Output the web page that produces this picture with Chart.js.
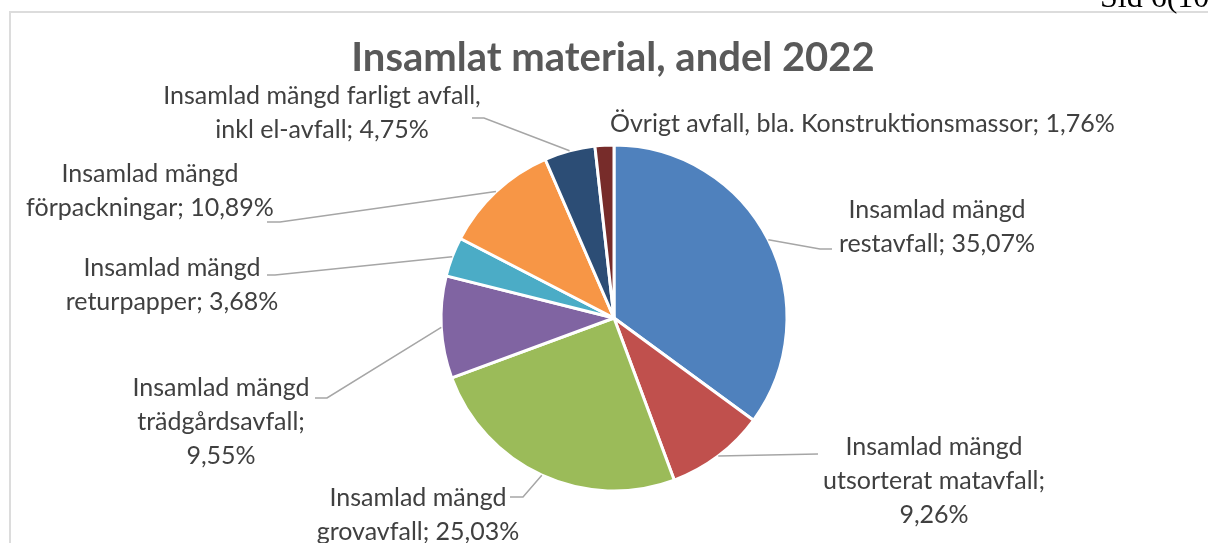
<!DOCTYPE html>
<html>
<head>
<meta charset="utf-8">
<script src="https://cdn.jsdelivr.net/npm/chart.js@4"></script>
<style>
    html, body { margin: 0; padding: 0; background: #fff; }
    #wrap { position: relative; width: 1208px; height: 543px; overflow: hidden; }
    #frame { position: absolute; left: 9px; top: 11px; right: -5px; bottom: -5px;
             border-left: 2px solid #dcdcdc; border-top: 2px solid #dcdcdc; }
    #pie { position: absolute; left: 0; top: 0; }
</style>
</head>
<body>
<div id="wrap">
    <div id="frame"></div>
    <canvas id="pie" width="1208" height="543"></canvas>
</div>
<script>
// Data
const categories = [
    "Insamlad mängd restavfall",
    "Insamlad mängd utsorterat matavfall",
    "Insamlad mängd grovavfall",
    "Insamlad mängd trädgårdsavfall",
    "Insamlad mängd returpapper",
    "Insamlad mängd förpackningar",
    "Insamlad mängd farligt avfall, inkl el-avfall",
    "Övrigt avfall, bla. Konstruktionsmassor"
];
const shares = [35.07, 9.26, 25.03, 9.55, 3.68, 10.89, 4.75, 1.76];
const sliceColors = ["#4f81bd", "#c0504d", "#9bbb59", "#8064a2", "#4bacc6", "#f79646", "#2c4d75", "#772c2a"];
const chartTitle = "Insamlat material, andel 2022";
const pageMark = "Sid 6(10)";

// where each data label sits (text centre / first line, wrap width, leader bend)
const labelLayout = [
    { x: 937, y: 210, wrap: 215, bend: [820, 249], end: [832, 249] },
    { x: 934, y: 447, wrap: 245, bend: [818, 454], end: [818, 454] },
    { x: 418, y: 498, wrap: 225, bend: [523, 497], end: [510, 497] },
    { x: 221, y: 388, wrap: 200, bend: [327, 398], end: [315, 398] },
    { x: 172, y: 268, wrap: 228, bend: [275, 275], end: [267, 275] },
    { x: 150, y: 174, wrap: 250, bend: [280, 222], end: [267, 222] },
    { x: 322, y: 96,  wrap: 345, bend: [484, 118], end: [472, 118] },
    { x: 610, y: 124, wrap: 650, align: "left" }
];

const labelFont = "25px Lato";
const lineHeight = 34;

function fmt(v) {
    return v.toFixed(2).replace(".", ",") + "%";
}

function wrapText(ctx, text, maxWidth) {
    const words = text.split(" ");
    const lines = [];
    let line = "";
    words.forEach(w => {
        const test = line ? line + " " + w : w;
        if (line && ctx.measureText(test).width > maxWidth) {
            lines.push(line);
            line = w;
        } else {
            line = test;
        }
    });
    if (line) lines.push(line);
    return lines;
}

const labelPlugin = {
    id: "outsideLabels",
    afterDraw(chart) {
        const ctx = chart.ctx;
        const meta = chart.getDatasetMeta(0);
        ctx.save();

        // title
        ctx.fillStyle = "#595959";
        ctx.font = "bold 40px Lato";
        ctx.textAlign = "center";
        ctx.textBaseline = "middle";
        ctx.fillText(chartTitle, 613, 58);

        // page number at the top, cut by the edge
        ctx.fillStyle = "#000";
        ctx.font = "32px 'Liberation Serif'";
        ctx.textAlign = "left";
        ctx.textBaseline = "alphabetic";
        ctx.fillText(pageMark, 1100, 7);

        meta.data.forEach((arc, i) => {
            const lay = labelLayout[i];
            const p = arc.getProps(["x", "y", "startAngle", "endAngle", "outerRadius"], true);
            const mid = (p.startAngle + p.endAngle) / 2;
            const ax = p.x + Math.cos(mid) * p.outerRadius;
            const ay = p.y + Math.sin(mid) * p.outerRadius;

            if (lay.bend) {
                ctx.strokeStyle = "#a6a6a6";
                ctx.lineWidth = 1.5;
                ctx.beginPath();
                ctx.moveTo(ax, ay);
                ctx.lineTo(lay.bend[0], lay.bend[1]);
                ctx.lineTo(lay.end[0], lay.end[1]);
                ctx.stroke();
            }

            ctx.font = labelFont;
            ctx.fillStyle = "#404040";
            ctx.textAlign = lay.align || "center";
            ctx.textBaseline = "middle";
            const text = categories[i] + "; " + fmt(shares[i]);
            const lines = wrapText(ctx, text, lay.wrap);
            lines.forEach((ln, k) => {
                ctx.fillText(ln, lay.x, lay.y + k * lineHeight);
            });
        });
        ctx.restore();
    }
};

const chart = new Chart(document.getElementById("pie"), {
    type: "pie",
    data: {
        labels: categories,
        datasets: [{
            data: shares,
            backgroundColor: sliceColors,
            borderColor: "#ffffff",
            borderWidth: 3,
            radius: 173
        }]
    },
    options: {
        responsive: false,
        animation: false,
        layout: { padding: { left: 20, right: 0, top: 93, bottom: 0 } },
        plugins: {
            legend: { display: false },
            title: { display: false },
            tooltip: { enabled: false }
        }
    },
    plugins: [labelPlugin]
});
</script>
</body>
</html>
